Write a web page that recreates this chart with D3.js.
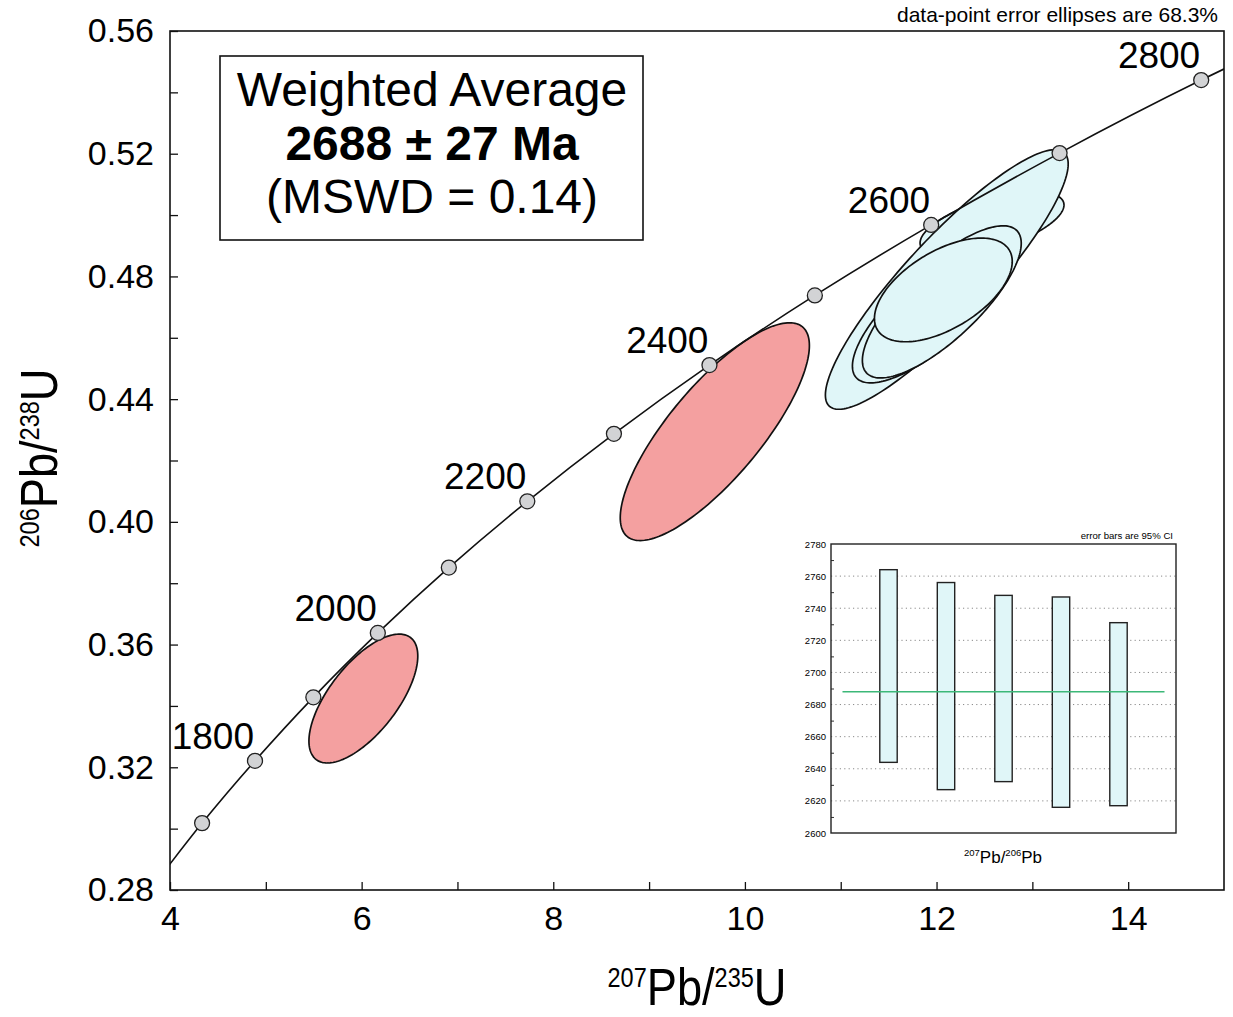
<!DOCTYPE html>
<html>
<head>
<meta charset="utf-8">
<script src="https://cdn.jsdelivr.net/npm/d3@7"></script>
<style>
body { margin: 0; background: #fff; }
text { font-family: "Liberation Sans", Arial, sans-serif; fill: #000; }
</style>
</head>
<body>
<div id="chart"></div>
<script>
// concordia: marker ages (Ma) and the ratios at each age
const ages = [1600, 1700, 1800, 1900, 2000, 2100, 2200, 2300, 2400, 2500, 2600, 2700, 2800, 2900];
const r207_235 = [3.834, 4.335, 4.887, 5.496, 6.169, 6.910, 7.729, 8.633, 9.630, 10.730, 11.944, 13.284, 14.762, 16.393];
const r206_238 = [0.2817, 0.3018, 0.3221, 0.3428, 0.3638, 0.3851, 0.4067, 0.4287, 0.4511, 0.4738, 0.4968, 0.5202, 0.5440, 0.5681];
const labelAges = [1800, 2000, 2200, 2400, 2600, 2800];

// error ellipses (centre, half extents, correlation); first two are rejected points
const ellX = [6.018, 9.686, 12.579, 12.107, 11.956, 12.055, 12.071];
const ellY = [0.3424, 0.4294, 0.4971, 0.4790, 0.4691, 0.4717, 0.4756];
const ellSx = [0.568, 0.987, 0.751, 1.267, 0.834, 0.829, 0.719];
const ellSy = [0.0210, 0.0355, 0.0105, 0.0423, 0.0238, 0.0248, 0.0169];
const ellRho = [0.66, 0.79, 0.59, 0.89, 0.77, 0.77, 0.55];
const ellUsed = [false, false, true, true, true, true, true];

const xTicks = [4, 6, 8, 10, 12, 14];
const xMinor = [5, 7, 9, 11, 13];
const yTicks = [0.28, 0.32, 0.36, 0.40, 0.44, 0.48, 0.52, 0.56];
const yMinor = [0.30, 0.34, 0.38, 0.42, 0.46, 0.50, 0.54];

// inset: 207Pb/206Pb ages with 95% error bars
const barLow = [2644, 2627, 2632, 2616, 2617];
const barHigh = [2764, 2756, 2748, 2747, 2731];
const wtdMean = 2688;
const insetTicks = [2600, 2620, 2640, 2660, 2680, 2700, 2720, 2740, 2760, 2780];
const insetMinor = [2610, 2630, 2650, 2670, 2690, 2710, 2730, 2750, 2770];

const W = 1233, H = 1017;
const svg = d3.select("#chart").append("svg")
    .attr("width", W).attr("height", H);

const x = d3.scaleLinear().domain([4, 15]).range([170, 1224]);
const y = d3.scaleLinear().domain([0.28, 0.56]).range([890, 31]);

svg.append("clipPath").attr("id", "plotclip")
  .append("rect")
    .attr("x", x(4)).attr("y", y(0.56))
    .attr("width", x(15) - x(4)).attr("height", y(0.28) - y(0.56));

const plot = svg.append("g").attr("clip-path", "url(#plotclip)");

// ellipses
function ellipsePath(i) {
    const s = Math.sqrt(1 - ellRho[i] * ellRho[i]);
    const pts = d3.range(0, 360, 2).map(function (a) {
        const t = a * Math.PI / 180;
        return [x(ellX[i] + ellSx[i] * Math.cos(t)),
                y(ellY[i] + ellSy[i] * (ellRho[i] * Math.cos(t) + s * Math.sin(t)))];
    });
    return d3.line()(pts) + "Z";
}

plot.selectAll(".ell")
    .data(d3.range(ellX.length))
    .enter().append("path")
    .attr("class", "ell")
    .attr("d", ellipsePath)
    .attr("fill", i => ellUsed[i] ? "#e0f6f8" : "#f4a0a0")
    .attr("stroke", "#111")
    .attr("stroke-width", 1.7);

// concordia curve
const conc = ages.map((a, i) => [r207_235[i], r206_238[i]]);
plot.append("path")
    .attr("d", d3.line().x(d => x(d[0])).y(d => y(d[1])).curve(d3.curveNatural)(conc))
    .attr("fill", "none")
    .attr("stroke", "#111")
    .attr("stroke-width", 1.6);

const inside = ages.map((a, i) => i).filter(i => r207_235[i] > 4 && r207_235[i] < 15);
plot.selectAll(".mark")
    .data(inside)
    .enter().append("circle")
    .attr("class", "mark")
    .attr("cx", i => x(r207_235[i]))
    .attr("cy", i => y(r206_238[i]))
    .attr("r", 7.5)
    .attr("fill", "#d2d3d5")
    .attr("stroke", "#222")
    .attr("stroke-width", 1.3);

svg.selectAll(".agelab")
    .data(labelAges)
    .enter().append("text")
    .attr("class", "agelab")
    .attr("x", a => x(r207_235[ages.indexOf(a)]) - 1)
    .attr("y", a => y(r206_238[ages.indexOf(a)]) - 12)
    .attr("text-anchor", "end")
    .attr("font-size", 37)
    .text(d => d);

// axes
svg.append("g").attr("transform", `translate(0,${y(0.28)})`)
    .call(d3.axisBottom(x).tickValues(xTicks).tickSize(-8).tickPadding(16).tickFormat(d3.format("d")));
svg.append("g").attr("transform", `translate(0,${y(0.28)})`)
    .call(d3.axisBottom(x).tickValues(xMinor).tickSize(-8).tickFormat(""));
svg.append("g").attr("transform", `translate(${x(4)},0)`)
    .call(d3.axisLeft(y).tickValues(yTicks).tickSize(-8).tickPadding(16).tickFormat(d3.format(".2f")));
svg.append("g").attr("transform", `translate(${x(4)},0)`)
    .call(d3.axisLeft(y).tickValues(yMinor).tickSize(-8).tickFormat(""));

svg.selectAll(".domain").remove();
svg.selectAll(".tick line").attr("stroke", "#111").attr("stroke-width", 1.3);
svg.selectAll(".tick text")
    .attr("font-size", 34)
    .attr("font-family", "'Liberation Sans', Arial, sans-serif")
    .attr("fill", "#000");

svg.append("rect")
    .attr("x", x(4)).attr("y", y(0.56))
    .attr("width", x(15) - x(4)).attr("height", y(0.28) - y(0.56))
    .attr("fill", "none").attr("stroke", "#111").attr("stroke-width", 1.6);

// axis titles
const xt = svg.append("text")
    .attr("transform", "translate(697,1005) scale(0.87,1)")
    .attr("text-anchor", "middle");
xt.append("tspan").attr("font-size", 27).attr("dy", -18).text("207");
xt.append("tspan").attr("font-size", 52).attr("dy", 18).text("Pb/");
xt.append("tspan").attr("font-size", 27).attr("dy", -18).text("235");
xt.append("tspan").attr("font-size", 52).attr("dy", 18).text("U");

const yt = svg.append("text")
    .attr("transform", "translate(57,458) rotate(-90) scale(0.87,1)")
    .attr("text-anchor", "middle");
yt.append("tspan").attr("font-size", 27).attr("dy", -18).text("206");
yt.append("tspan").attr("font-size", 52).attr("dy", 18).text("Pb/");
yt.append("tspan").attr("font-size", 27).attr("dy", -18).text("238");
yt.append("tspan").attr("font-size", 52).attr("dy", 18).text("U");

svg.append("text")
    .attr("x", 1218).attr("y", 22)
    .attr("text-anchor", "end")
    .attr("font-size", 21)
    .text("data-point error ellipses are 68.3%");

// weighted average box
svg.append("rect")
    .attr("x", 220).attr("y", 56).attr("width", 423).attr("height", 184)
    .attr("fill", "#fff").attr("stroke", "#111").attr("stroke-width", 1.6);
svg.append("text").attr("x", 432).attr("y", 106).attr("text-anchor", "middle")
    .attr("font-size", 48).text("Weighted Average");
svg.append("text").attr("x", 432).attr("y", 160).attr("text-anchor", "middle")
    .attr("font-size", 48).attr("font-weight", "bold").text("2688 \u00b1 27 Ma");
svg.append("text").attr("x", 432).attr("y", 213).attr("text-anchor", "middle")
    .attr("font-size", 48).text("(MSWD = 0.14)");

// inset weighted mean plot
const ix = d3.scaleLinear().domain([0, 6]).range([831, 1176]);
const iy = d3.scaleLinear().domain([2600, 2780]).range([833, 544]);
const inset = svg.append("g");

inset.append("rect")
    .attr("x", ix(0)).attr("y", iy(2780))
    .attr("width", ix(6) - ix(0)).attr("height", iy(2600) - iy(2780))
    .attr("fill", "#fff");

inset.selectAll(".grid")
    .data(insetTicks.filter(t => t > 2600 && t < 2780))
    .enter().append("line")
    .attr("class", "grid")
    .attr("x1", ix(0)).attr("x2", ix(6))
    .attr("y1", d => iy(d)).attr("y2", d => iy(d))
    .attr("stroke", "#8a8a8a").attr("stroke-width", 1)
    .attr("stroke-dasharray", "1.2,3.2");

inset.append("g").attr("transform", `translate(${ix(0)},0)`)
    .call(d3.axisLeft(iy).tickValues(insetTicks).tickSize(0).tickPadding(5).tickFormat(d3.format("d")))
    .call(g => g.select(".domain").remove())
    .call(g => g.selectAll("text").attr("font-size", 9.5).attr("fill", "#222")
        .attr("font-family", "'Liberation Sans', Arial, sans-serif"));
inset.append("g").attr("transform", `translate(${ix(0)},0)`)
    .call(d3.axisLeft(iy).tickValues(insetMinor).tickSize(-3).tickFormat(""))
    .call(g => g.select(".domain").remove())
    .call(g => g.selectAll("line").attr("stroke", "#333"));

inset.selectAll(".bar")
    .data(barLow)
    .enter().append("rect")
    .attr("class", "bar")
    .attr("x", (d, i) => ix(i + 1) - 8.7)
    .attr("width", 17.4)
    .attr("y", (d, i) => iy(barHigh[i]))
    .attr("height", (d, i) => iy(d) - iy(barHigh[i]))
    .attr("fill", "#e0f6f8")
    .attr("stroke", "#222").attr("stroke-width", 1.4);

inset.append("line")
    .attr("x1", ix(0.2)).attr("x2", ix(5.8))
    .attr("y1", iy(wtdMean)).attr("y2", iy(wtdMean))
    .attr("stroke", "#3cb878").attr("stroke-width", 1.6);

inset.append("rect")
    .attr("x", ix(0)).attr("y", iy(2780))
    .attr("width", ix(6) - ix(0)).attr("height", iy(2600) - iy(2780))
    .attr("fill", "none").attr("stroke", "#222").attr("stroke-width", 1.4);

inset.append("text")
    .attr("x", 1173).attr("y", 539)
    .attr("text-anchor", "end").attr("font-size", 9.6).attr("fill", "#222")
    .text("error bars are 95% CI");

const it = inset.append("text")
    .attr("transform", "translate(1003,863)")
    .attr("text-anchor", "middle").attr("fill", "#222");
it.append("tspan").attr("font-size", 9.5).attr("dy", -7).text("207");
it.append("tspan").attr("font-size", 17).attr("dy", 7).text("Pb/");
it.append("tspan").attr("font-size", 9.5).attr("dy", -7).text("206");
it.append("tspan").attr("font-size", 17).attr("dy", 7).text("Pb");
</script>
</body>
</html>
